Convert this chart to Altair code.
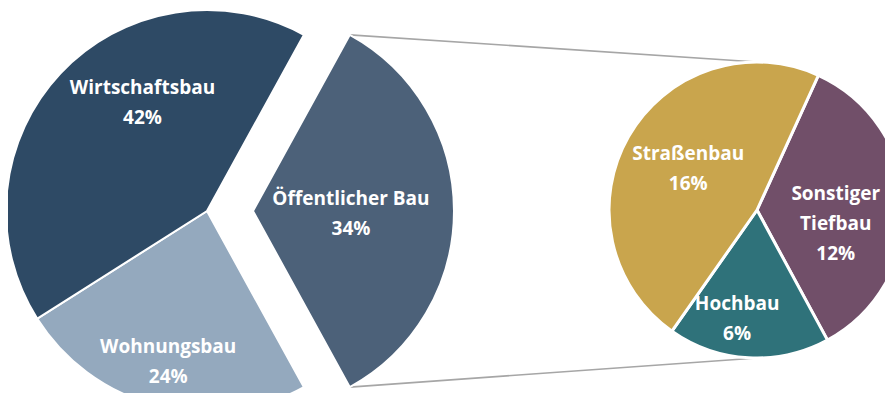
import altair as alt
import pandas as pd
import math

# ---- data (clockwise drawing order) ----
left_cats = ["Öffentlicher Bau", "Wohnungsbau", "Wirtschaftsbau"]
left_vals = [34, 24, 42]
right_cats = ["Sonstiger Tiefbau", "Hochbau", "Straßenbau"]
right_vals = [12, 6, 16]

all_cats = ["Wirtschaftsbau", "Wohnungsbau", "Öffentlicher Bau",
            "Straßenbau", "Sonstiger Tiefbau", "Hochbau"]
colors = ["#2E4A65", "#94A9BE", "#4C6179", "#C9A54D", "#714F69", "#2F727A"]
label_names = {"Sonstiger Tiefbau": "Sonstiger\nTiefbau"}

# ---- layout ----
W, H = 877, 385
LCX, LCY, LR = 199, 203, 201          # main pie
EXPLODE = 46                          # explosion of "Öffentlicher Bau"
RCX, RCY, RR = 749, 202, 148          # secondary pie
left_rot = 90 - left_vals[0] / sum(left_vals) * 360 / 2
right_rot = 24.5
LINE_H = 30
# label placement (radius in px, angle nudge in degrees)
label_layout = {
    "Wirtschaftsbau": (126, 16), "Wohnungsbau": (156, 0), "Öffentlicher Bau": (98, 2),
    "Straßenbau": (80, 1), "Sonstiger Tiefbau": (80, 12), "Hochbau": (111, 7),
}


def build(cats, vals, rot):
    df = pd.DataFrame({"cat": cats, "val": vals})
    tot = df["val"].sum()
    df["end"] = rot + df["val"].cumsum() / tot * 360
    df["start"] = df["end"] - df["val"] / tot * 360
    df["mid"] = (df["start"] + df["end"]) / 2
    df["label"] = [label_names.get(c, c) + "\n" + f"{v}%" for c, v in zip(cats, vals)]
    return df


ldf = build(left_cats, left_vals, left_rot)
rdf = build(right_cats, right_vals, right_rot)

theta_scale = alt.Scale(domain=[0, 360], range=[0, 2 * math.pi])
color_enc = alt.Color("cat:N", scale=alt.Scale(domain=all_cats, range=colors), legend=None)


def arcs(df, cx, cy, r, sw):
    return alt.Chart(df).mark_arc(radius=r, stroke="white", strokeWidth=sw).encode(
        theta=alt.Theta("start:Q", scale=theta_scale),
        theta2="end:Q",
        color=color_enc,
        x=alt.value(cx), y=alt.value(cy),
    )


exploded = left_cats[0]
base_left = arcs(ldf[ldf["cat"] != exploded], LCX, LCY, LR, 2)
expl_slice = arcs(ldf[ldf["cat"] == exploded], LCX + EXPLODE, LCY, LR, 2)
right_pie = arcs(rdf, RCX, RCY, RR, 3)

# connector lines: exploded slice outer corners -> top / bottom of secondary pie
a0 = math.radians(ldf.loc[0, "start"])
a1 = math.radians(ldf.loc[0, "end"])
ex = LCX + EXPLODE
conn_df = pd.DataFrame({"k": [0]})
lines = []
for a, ty in [(a0, RCY - RR), (a1, RCY + RR)]:
    lines.append(
        alt.Chart(conn_df).mark_rule(color="#A6A6A6", strokeWidth=1.6).encode(
            x=alt.value(ex + LR * math.sin(a)), y=alt.value(LCY - LR * math.cos(a)),
            x2=alt.value(RCX), y2=alt.value(ty),
        )
    )

texts = []
for df, cx, cy in [(ldf, LCX, LCY), (rdf, RCX, RCY)]:
    for c, lab in zip(df["cat"], df["label"]):
        r, nudge = label_layout[c]
        n_lines = lab.count("\n") + 1
        ccx = cx + (EXPLODE if c == exploded else 0)
        texts.append(
            alt.Chart(df[df["cat"] == c]).transform_calculate(
                tpos=f"datum.mid + {nudge}"
            ).mark_text(
                radius=r, font="Open Sans", fontSize=19, fontWeight="bold", color="white",
                lineBreak="\n", lineHeight=LINE_H, align="center", baseline="middle",
                dy=-(n_lines - 1) * LINE_H / 2,
            ).encode(
                theta=alt.Theta("tpos:Q", scale=theta_scale),
                text="label:N",
                x=alt.value(ccx), y=alt.value(cy),
            )
        )

chart = alt.layer(*lines, base_left, expl_slice, right_pie, *texts).properties(
    width=W, height=H, padding=0, autosize="none"
).configure_view(stroke=None)

chart.save("out.html", embed_options={"renderer": "svg", "actions": False})
